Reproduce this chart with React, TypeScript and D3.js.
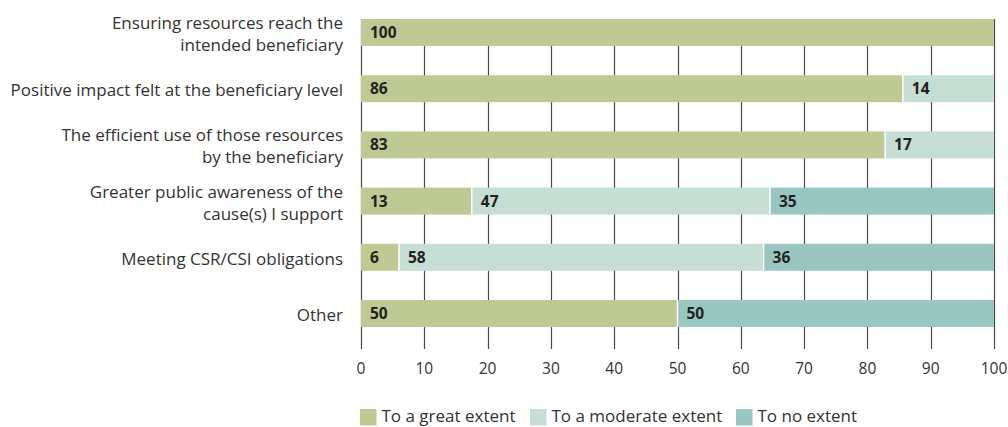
import React, { useEffect, useRef } from 'react';
import * as d3 from 'd3';

// categories (lines split as in the chart)
const categories = [
  ['Ensuring resources reach the', 'intended beneficiary'],
  ['Positive impact felt at the beneficiary level'],
  ['The efficient use of those resources', 'by the beneficiary'],
  ['Greater public awareness of the', 'cause(s) I support'],
  ['Meeting CSR/CSI obligations'],
  ['Other'],
];

const seriesNames = ['To a great extent', 'To a moderate extent', 'To no extent'];

// segment widths as drawn
const greatExtent = [100, 85.6, 82.8, 17.5, 6, 50];
const moderateExtent = [0, 14.4, 17.2, 47.1, 57.6, 0];
const noExtent = [0, 0, 0, 35.4, 36.4, 50];

// printed labels
const greatLabels = ['100', '86', '83', '13', '6', '50'];
const moderateLabels = ['', '14', '17', '47', '58', ''];
const noLabels = ['', '', '', '35', '36', '50'];

const xTicks = [0, 10, 20, 30, 40, 50, 60, 70, 80, 90, 100];

const colors = ['#bec994', '#c6ded3', '#9ac6c2'];

const App = () => {
  const svgRef = useRef<SVGSVGElement>(null);

  useEffect(() => {
    if (!svgRef.current) return;
    const svg = d3.select(svgRef.current);
    svg.selectAll('*').remove();

    const width = 1008;
    const height = 427;
    const font = '"Open Sans", "Noto Sans", sans-serif';

    const x = d3.scaleLinear().domain([0, 100]).range([361, 994]);
    const y = d3.scaleBand<number>()
      .domain(d3.range(categories.length))
      .range([4.4, 341.6])
      .paddingInner(0.52)
      .paddingOuter(0.26);

    svg.attr('width', width).attr('height', height);

    // vertical grid lines
    svg.append('g')
      .selectAll('line')
      .data(xTicks)
      .enter()
      .append('line')
      .attr('x1', d => Math.round(x(d)) + 0.5)
      .attr('x2', d => Math.round(x(d)) + 0.5)
      .attr('y1', 19)
      .attr('y2', 349)
      .attr('stroke', '#4a4a4a')
      .attr('stroke-width', 1.2);

    // tick labels
    svg.append('g')
      .selectAll('text')
      .data(xTicks)
      .enter()
      .append('text')
      .attr('x', d => x(d))
      .attr('y', 374)
      .attr('text-anchor', 'middle')
      .style('font-family', font)
      .style('font-size', '15.5px')
      .style('fill', '#333')
      .text(d => d);

    // stacked bars
    const series = [
      { values: greatExtent, labels: greatLabels, color: colors[0] },
      { values: moderateExtent, labels: moderateLabels, color: colors[1] },
      { values: noExtent, labels: noLabels, color: colors[2] },
    ];

    categories.forEach((_, i) => {
      let start = 0;
      series.forEach(s => {
        const v = s.values[i];
        if (v > 0) {
          svg.append('rect')
            .attr('x', x(start))
            .attr('y', y(i)!)
            .attr('width', x(start + v) - x(start))
            .attr('height', y.bandwidth())
            .attr('fill', s.color);
          // white separator at the left edge
          if (start > 0) {
            svg.append('line')
              .attr('x1', x(start))
              .attr('x2', x(start))
              .attr('y1', y(i)!)
              .attr('y2', y(i)! + y.bandwidth())
              .attr('stroke', '#fff')
              .attr('stroke-width', 1.5);
          }
          if (s.labels[i]) {
            svg.append('text')
              .attr('x', x(start) + 9)
              .attr('y', y(i)! + y.bandwidth() / 2)
              .attr('dy', '0.36em')
              .style('font-family', font)
              .style('font-size', '15.5px')
              .style('font-weight', 'bold')
              .style('fill', '#222')
              .text(s.labels[i]);
          }
        }
        start += v;
      });
    });

    // category labels
    categories.forEach((lines, i) => {
      const cy = y(i)! + y.bandwidth() / 2;
      const lh = 22;
      const top = cy - ((lines.length - 1) * lh) / 2;
      lines.forEach((line, j) => {
        svg.append('text')
          .attr('x', 343)
          .attr('y', top + j * lh + 7.5)
          .attr('text-anchor', 'end')
          .style('font-family', font)
          .style('font-size', '17px')
          .style('fill', '#333')
          .text(line);
      });
    });

    // legend
    const legendX = [360, 530, 736];
    seriesNames.forEach((name, i) => {
      svg.append('rect')
        .attr('x', legendX[i])
        .attr('y', 409)
        .attr('width', 16.5)
        .attr('height', 16.5)
        .attr('fill', colors[i]);
      svg.append('text')
        .attr('x', legendX[i] + 21.5)
        .attr('y', 421.5)
        .style('font-family', font)
        .style('font-size', '17px')
        .style('fill', '#333')
        .text(name);
    });
  }, []);

  return (
    <svg
      ref={svgRef}
      style={{ position: 'absolute', left: 0, top: 0, display: 'block', background: '#fff' }}
    />
  );
};

export default App;
